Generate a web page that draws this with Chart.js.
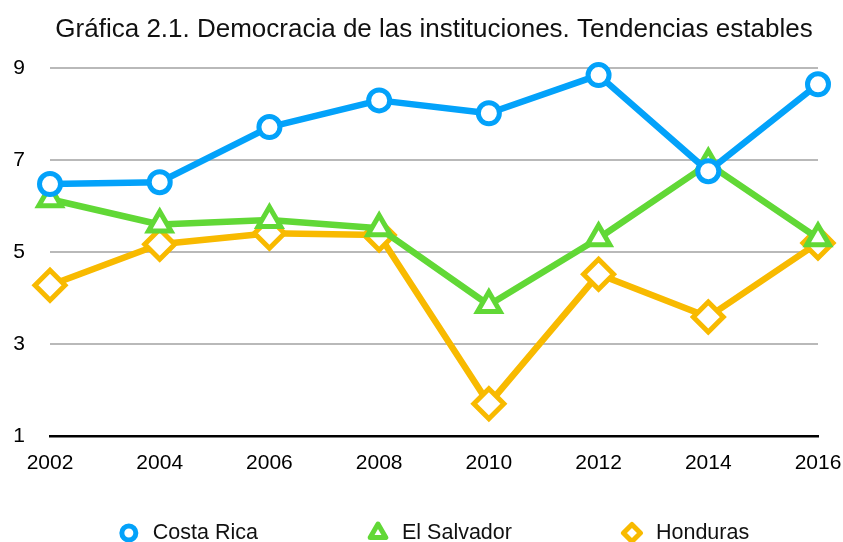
<!DOCTYPE html>
<html>
<head>
<meta charset="utf-8">
<script src="https://cdn.jsdelivr.net/npm/chart.js@4.4.0/dist/chart.umd.min.js"></script>
<style>
  html, body { margin: 0; padding: 0; background: #fff; }
  #wrap { width: 843px; height: 542px; }
</style>
</head>
<body>
<div id="wrap"><canvas id="chart" width="843" height="542"></canvas></div>
<script>
// datos
const TITLE = 'Gráfica 2.1. Democracia de las instituciones. Tendencias estables';
const YEARS = ['2002', '2004', '2006', '2008', '2010', '2012', '2014', '2016'];
const Y_TICKS = [1, 3, 5, 7, 9];
const COSTA_RICA = [6.48, 6.52, 7.72, 8.30, 8.02, 8.85, 6.76, 8.65];
const EL_SALVADOR = [6.15, 5.60, 5.70, 5.52, 3.85, 5.30, 6.92, 5.30];
const HONDURAS = [4.28, 5.17, 5.41, 5.37, 1.70, 4.52, 3.59, 5.20];

const COLORS = {
  costaRica: '#03a2fa',
  elSalvador: '#61d836',
  honduras: '#f8ba00',
  grid: '#b9b9b9',
  text: '#111'
};

const FONT = '"Liberation Sans", Arial, Helvetica, sans-serif';
Chart.defaults.font.family = FONT;
Chart.defaults.color = COLORS.text;

// leyenda propia, centrada bajo el área del gráfico
function drawMarker(ctx, style, x, y, r) {
  ctx.beginPath();
  if (style === 'circle') {
    ctx.arc(x, y, r, 0, Math.PI * 2);
  } else if (style === 'triangle') {
    ctx.moveTo(x, y - r);
    ctx.lineTo(x + r * 0.866, y + r / 2);
    ctx.lineTo(x - r * 0.866, y + r / 2);
    ctx.closePath();
  } else {
    ctx.moveTo(x, y - r);
    ctx.lineTo(x + r, y);
    ctx.lineTo(x, y + r);
    ctx.lineTo(x - r, y);
    ctx.closePath();
  }
  ctx.fill();
  ctx.stroke();
}

const bottomLegend = {
  id: 'bottomLegend',
  afterDraw(chart) {
    const ctx = chart.ctx;
    const area = chart.chartArea;
    const y = 533;
    const toText = 24;
    const gap = 120;
    ctx.save();
    ctx.font = '21.5px ' + FONT;
    const items = chart.data.datasets.map(ds => ({
      ds: ds,
      w: ctx.measureText(ds.label).width
    }));
    let total = 10;
    items.forEach((it, i) => {
      total += toText + it.w + (i < items.length - 1 ? gap : 0);
    });
    let cx = (area.left + area.right) / 2 - total / 2 + 10;
    items.forEach(it => {
      ctx.fillStyle = '#fff';
      ctx.strokeStyle = it.ds.borderColor;
      ctx.lineWidth = 5;
      ctx.lineJoin = 'round';
      drawMarker(ctx, it.ds.pointStyle, cx, y, it.ds.legendRadius);
      ctx.fillStyle = COLORS.text;
      ctx.textAlign = 'left';
      ctx.textBaseline = 'middle';
      ctx.fillText(it.ds.label, cx + toText, y);
      cx += toText + it.w + gap;
    });
    ctx.restore();
  }
};

function makeDataset(label, data, color, style, radius, legendRadius) {
  return {
    label: label,
    data: data,
    borderColor: color,
    backgroundColor: color,
    borderWidth: 6.5,
    borderJoinStyle: 'round',
    borderCapStyle: 'round',
    pointStyle: style,
    pointRadius: radius,
    pointHoverRadius: radius,
    pointBorderWidth: 5,
    pointBackgroundColor: '#fff',
    pointBorderColor: color,
    legendRadius: legendRadius,
    tension: 0,
    clip: false
  };
}

new Chart(document.getElementById('chart'), {
  type: 'line',
  data: {
    labels: YEARS,
    datasets: [
      makeDataset('Costa Rica', COSTA_RICA, COLORS.costaRica, 'circle', 10.5, 7),
      makeDataset('El Salvador', EL_SALVADOR, COLORS.elSalvador, 'triangle', 13, 9),
      makeDataset('Honduras', HONDURAS, COLORS.honduras, 'rectRot', 15, 8.5)
    ]
  },
  options: {
    responsive: false,
    animation: false,
    events: [],
    layout: { padding: { left: 0, right: 25, top: 0, bottom: 66 } },
    plugins: {
      legend: { display: false },
      tooltip: { enabled: false },
      title: {
        display: true,
        text: TITLE,
        fullSize: false,
        color: COLORS.text,
        font: { size: 26, weight: 'normal' },
        padding: { top: 14, bottom: 23 }
      }
    },
    scales: {
      x: {
        type: 'category',
        offset: false,
        grid: { display: false, drawTicks: false },
        border: { display: true, color: '#000', width: 2.5 },
        ticks: { color: '#000', font: { size: 21 }, padding: 15, maxRotation: 0, autoSkip: false },
        afterFit: s => { s.height = 40; s.paddingLeft = 0; s.paddingRight = 0; }
      },
      y: {
        min: 1,
        max: 9,
        grid: { color: COLORS.grid, lineWidth: 2, drawTicks: false },
        border: { display: false },
        ticks: { color: '#000', font: { size: 21 }, padding: 25 },
        afterBuildTicks: s => { s.ticks = Y_TICKS.map(v => ({ value: v })); },
        afterFit: s => { s.width = 50; }
      }
    }
  },
  plugins: [bottomLegend]
});
</script>
</body>
</html>
